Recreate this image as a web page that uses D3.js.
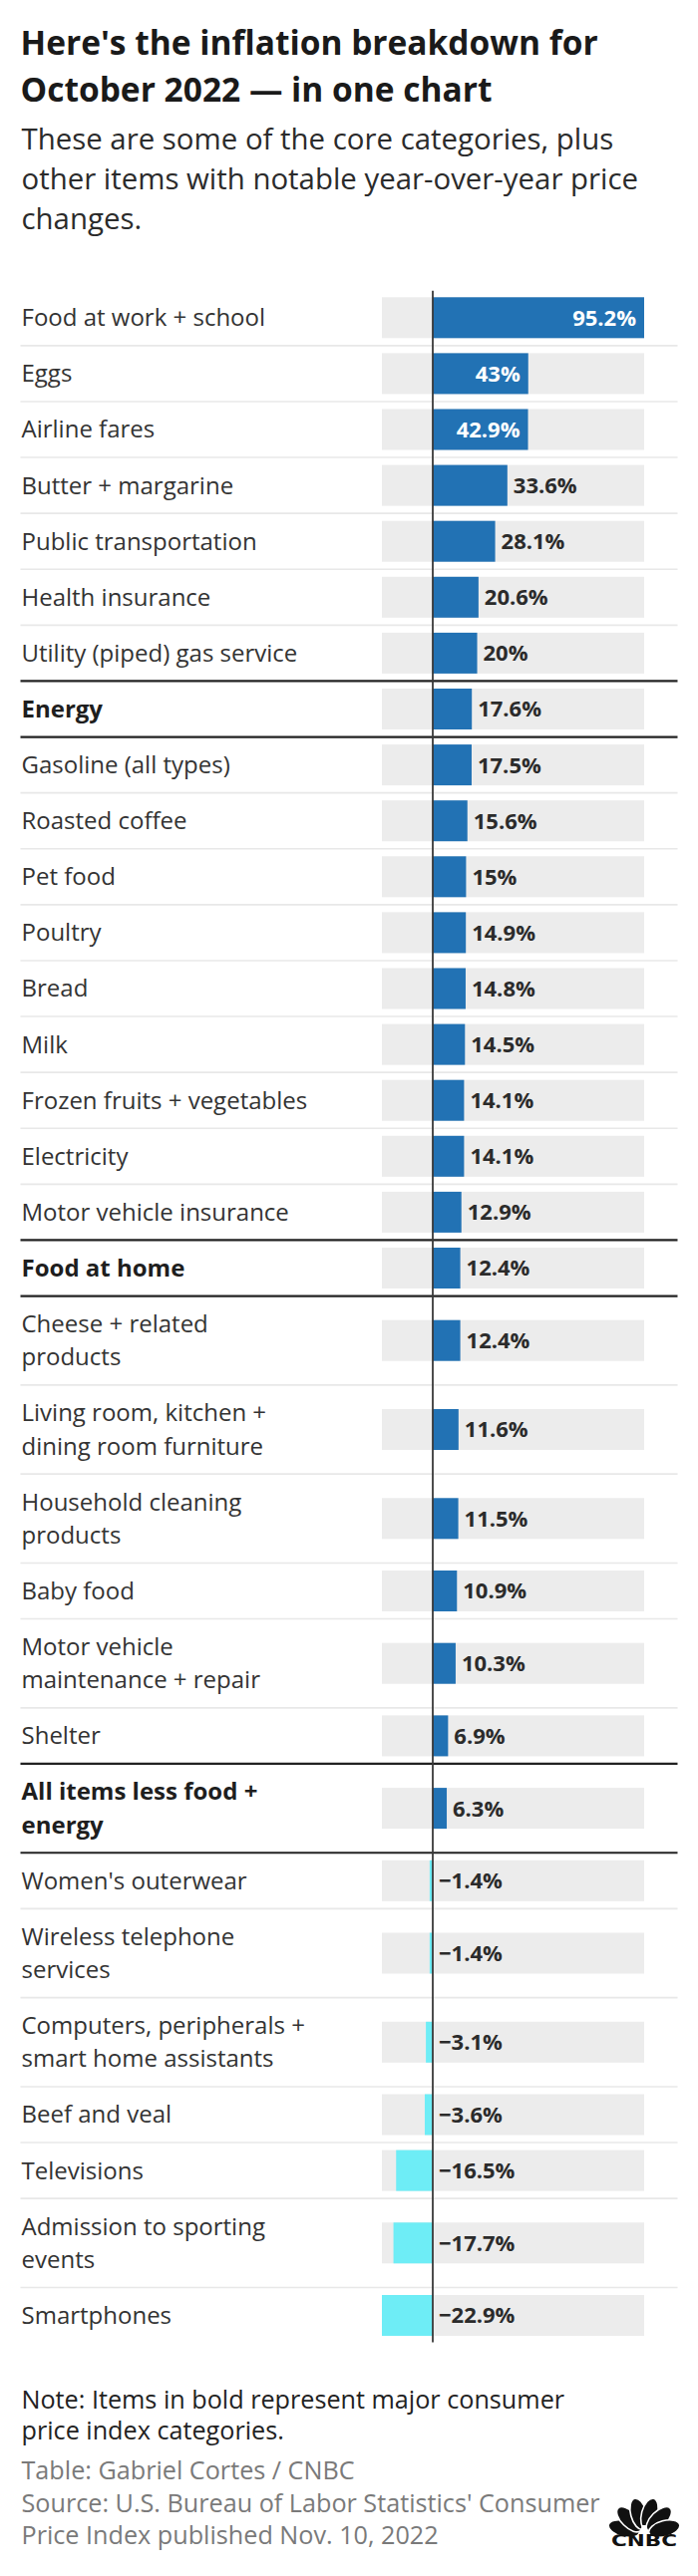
<!DOCTYPE html>
<html>
<head>
<meta charset="utf-8">
<script src="https://cdn.jsdelivr.net/npm/d3@7"></script>
<style>
  body { margin: 0; background: #fff; }
  svg { display: block; }
</style>
</head>
<body>
<script>
// CPI year-over-year changes, October 2022
var categories = [
  "Food at work + school", "Eggs", "Airline fares", "Butter + margarine",
  "Public transportation", "Health insurance", "Utility (piped) gas service",
  "Energy", "Gasoline (all types)", "Roasted coffee", "Pet food", "Poultry",
  "Bread", "Milk", "Frozen fruits + vegetables", "Electricity",
  "Motor vehicle insurance", "Food at home", "Cheese + related\nproducts",
  "Living room, kitchen +\ndining room furniture", "Household cleaning\nproducts",
  "Baby food", "Motor vehicle\nmaintenance + repair", "Shelter",
  "All items less food +\nenergy", "Women's outerwear", "Wireless telephone\nservices",
  "Computers, peripherals +\nsmart home assistants", "Beef and veal", "Televisions",
  "Admission to sporting\nevents", "Smartphones"
];
var values = [95.2, 43, 42.9, 33.6, 28.1, 20.6, 20, 17.6, 17.5, 15.6, 15, 14.9,
  14.8, 14.5, 14.1, 14.1, 12.9, 12.4, 12.4, 11.6, 11.5, 10.9, 10.3, 6.9, 6.3,
  -1.4, -1.4, -3.1, -3.6, -16.5, -17.7, -22.9];
var majorCategories = ["Energy", "Food at home", "All items less food +\nenergy"];

var titleLines = ["Here's the inflation breakdown for", "October 2022 \u2014 in one chart"];
var subtitleLines = ["These are some of the core categories, plus",
  "other items with notable year-over-year price", "changes."];
var noteLines = ["Note: Items in bold represent major consumer", "price index categories."];
var creditLines = ["Table: Gabriel Cortes / CNBC",
  "Source: U.S. Bureau of Labor Statistics' Consumer",
  "Price Index published Nov. 10, 2022"];

var width = 700, height = 2585;
var font = "'Open Sans', Lato, sans-serif";
var left = 21.5, right = 679.5;
var rowTop = 290.75, singleH = 56.1, doubleH = 89.3, barH = 41;
var posColor = "#2272b4", negColor = "#6eedf6", trackColor = "#ececec";

var rows = categories.map(function (c, i) {
  var lines = c.split("\n");
  return { name: c, lines: lines, value: values[i], major: majorCategories.indexOf(c) >= 0,
    h: lines.length > 1 ? doubleH : singleH };
});
var y0 = rowTop;
rows.forEach(function (r) { r.y0 = y0; r.cy = y0 + r.h / 2; y0 += r.h; });
var rowBottom = y0;

var svg = d3.select(document.body).append("svg")
    .attr("width", width)
    .attr("height", height)
    .attr("font-family", font);

// heading
svg.append("g").selectAll("text")
  .data(titleLines)
  .join("text")
    .attr("x", left - 1)
    .attr("y", (d, i) => 55 + i * 46.7)
    .attr("font-size", 33.5)
    .attr("font-weight", 700)
    .attr("fill", "#1a1a1a")
    .text(d => d);

svg.append("g").selectAll("text")
  .data(subtitleLines)
  .join("text")
    .attr("x", left)
    .attr("y", (d, i) => 150 + i * 40.2)
    .attr("font-size", 29.4)
    .attr("fill", "#2b2b2b")
    .text(d => d);

var x = d3.scaleLinear()
    .domain([d3.min(values), d3.max(values)])
    .range([383, 646]);

var row = svg.append("g").selectAll("g")
  .data(rows)
  .join("g")
    .attr("transform", d => "translate(0," + d.cy + ")");

row.append("rect")
    .attr("x", x(d3.min(values)))
    .attr("y", -barH / 2)
    .attr("width", x(d3.max(values)) - x(d3.min(values)))
    .attr("height", barH)
    .attr("fill", trackColor);

row.append("rect")
    .attr("x", d => x(Math.min(0, d.value)))
    .attr("y", -barH / 2)
    .attr("width", d => Math.abs(x(d.value) - x(0)))
    .attr("height", barH)
    .attr("fill", d => d.value < 0 ? negColor : posColor);

// row dividers, dark around the major categories
svg.append("g").selectAll("line")
  .data(rows.slice(1).map((r, i) => ({ y: r.y0, thick: r.major || rows[i].major })))
  .join("line")
    .attr("x1", left - 1)
    .attr("x2", right)
    .attr("y1", d => d.y)
    .attr("y2", d => d.y)
    .attr("stroke", d => d.thick ? "#222" : "#e8e8e8")
    .attr("stroke-width", d => d.thick ? 2.2 : 1.6);

svg.append("line")
    .attr("x1", x(0))
    .attr("x2", x(0))
    .attr("y1", rowTop + 1)
    .attr("y2", rowBottom - 1)
    .attr("stroke", "#3a3a3a")
    .attr("stroke-width", 1.8);

// category labels
row.append("text")
    .attr("font-size", 24)
    .attr("font-weight", d => d.major ? 700 : 400)
    .attr("fill", d => d.major ? "#1e1e1e" : "#333")
    .selectAll("tspan")
    .data(d => d.lines.map((l, i) => ({ text: l, dy: (i - (d.lines.length - 1) / 2) * 33.3 })))
    .join("tspan")
      .attr("x", left)
      .attr("y", d => d.dy)
      .attr("dy", "0.35em")
      .text(d => d.text);

// value labels, white inside the bar when they fit
var fmt = v => (v < 0 ? "\u2212" : "") + Math.abs(v) + "%";
row.append("text")
    .attr("font-size", 22)
    .attr("font-weight", 700)
    .attr("dy", "0.36em")
    .text(d => fmt(d.value))
    .each(function (d) {
      var t = d3.select(this);
      var w = this.getComputedTextLength();
      var barW = x(d.value) - x(0);
      if (d.value > 0 && w + 16 < barW) {
        t.attr("x", x(d.value) - 8).attr("text-anchor", "end").attr("fill", "#fff");
      } else {
        t.attr("x", Math.max(x(0), x(d.value)) + 6).attr("fill", "#2b2b2b");
      }
    });

// footer
svg.append("g").selectAll("text")
  .data(noteLines)
  .join("text")
    .attr("x", left)
    .attr("y", (d, i) => 2416.7 + i * 31.7)
    .attr("font-size", 25.2)
    .attr("fill", "#222")
    .text(d => d);

svg.append("g").selectAll("text")
  .data(creditLines)
  .join("text")
    .attr("x", left)
    .attr("y", (d, i) => 2488 + i * 32.7)
    .attr("font-size", 25.2)
    .attr("fill", "#7a7a7a")
    .text(d => d);

// CNBC peacock mark
var logo = svg.append("g").attr("transform", "translate(646,2543)");
[-75, -45, -15, 15, 45, 75].forEach(function (a) {
  logo.append("ellipse")
      .attr("cx", 0)
      .attr("cy", -21)
      .attr("rx", 8)
      .attr("ry", 16)
      .attr("transform", "rotate(" + a + ")")
      .attr("fill", "#111")
      .attr("stroke", "#fff")
      .attr("stroke-width", 1.6);
});
logo.append("path")
    .attr("d", "M-5,0 L-2,-9 L2,-9 L5,0 Z")
    .attr("fill", "#fff");
logo.append("text")
    .attr("x", -33)
    .attr("y", 12)
    .attr("textLength", 66)
    .attr("lengthAdjust", "spacingAndGlyphs")
    .attr("font-family", "'DejaVu Sans', sans-serif")
    .attr("font-weight", 700)
    .attr("font-size", 15)
    .attr("fill", "#111")
    .text("CNBC");
</script>
</body>
</html>
